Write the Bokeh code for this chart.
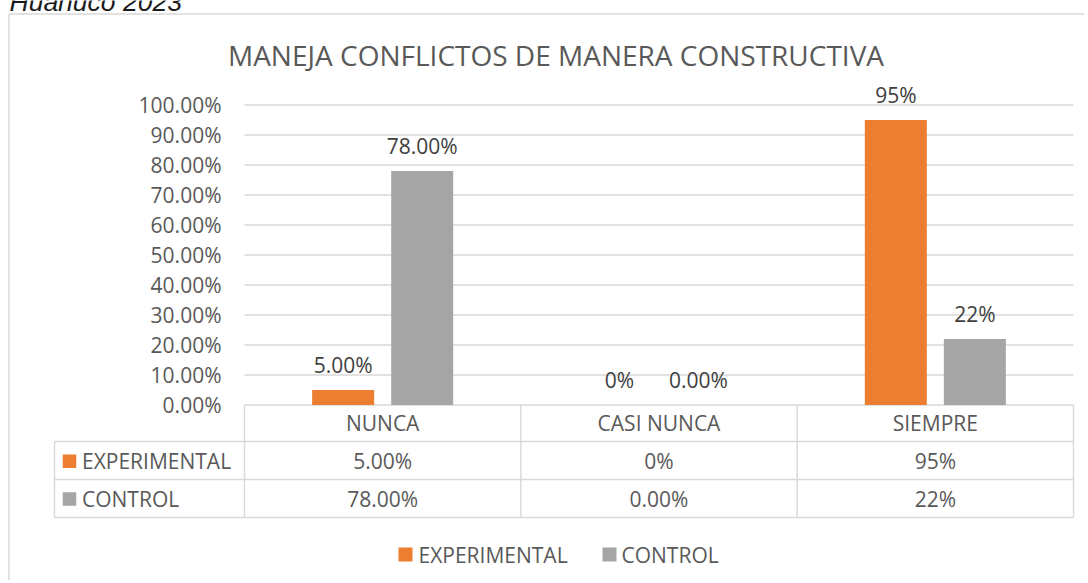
from bokeh.plotting import figure
from bokeh.models import Range1d
from bokeh.core.properties import value
from bokeh.embed import file_html
from bokeh.resources import INLINE
import numpy as np

# ---------------- data ----------------
caption = "Huánuco 2023"
chart_title = "MANEJA CONFLICTOS DE MANERA CONSTRUCTIVA"
categories = ["NUNCA", "CASI NUNCA", "SIEMPRE"]
series_names = ["EXPERIMENTAL", "CONTROL"]
experimental = [5.0, 0.0, 95.0]
control = [78.0, 0.0, 22.0]
experimental_labels = ["5.00%", "0%", "95%"]
control_labels = ["78.00%", "0.00%", "22%"]
y_ticks = [0, 10, 20, 30, 40, 50, 60, 70, 80, 90, 100]
y_tick_labels = ["0.00%", "10.00%", "20.00%", "30.00%", "40.00%", "50.00%",
                 "60.00%", "70.00%", "80.00%", "90.00%", "100.00%"]

# ---------------- style / layout ----------------
ORANGE = "#ED7D31"
GRAY = "#A5A5A5"
TXT = "#595959"
DLBL = "#404040"
LINE = "#D9D9D9"
FONT = value("Open Sans")
FS = "21px"

W, H = 1084, 580
OX, OY = 0, 0            # canvas origin on the screenshot
PL, PR = 244.0, 1073.0   # plot area left/right (screen px)
Y0 = 404.5               # 0% line (screen px)
PXY = 3.0                # px per percent
PXU = (PR - PL) / len(categories)


def sx(X):
    return (X - PL) / PXU


def sy(Y):
    return (Y0 - Y) / PXY


p = figure(width=W, height=H, output_backend="svg", toolbar_location=None,
           x_range=Range1d(sx(OX), sx(OX + W)), y_range=Range1d(sy(OY + H), sy(OY)),
           x_axis_location=None, y_axis_location=None, min_border=0)
p.outline_line_color = None
p.grid.grid_line_color = None
p.background_fill_color = "white"
p.border_fill_color = "white"

TXTKW = dict(text_font=FONT, text_font_size=FS, text_baseline="middle")

# document caption (cut off at the top, as in the source)
p.text(x=[sx(9)], y=[sy(1.5)], text=[caption], text_font=value("Liberation Sans"),
       text_font_size="26.5px", text_font_style="italic", text_color="#1a1a1a",
       text_align="left", text_baseline="middle")

# chart border (left and top)
p.segment(x0=[sx(8.5), sx(8.5)], y0=[sy(13.5), sy(13.5)],
          x1=[sx(8.5), sx(OX + W)], y1=[sy(OY + H), sy(13.5)],
          line_color=LINE, line_width=1.5)

# title
p.text(x=[sx(555.5)], y=[sy(54)], text=[chart_title], text_font=FONT,
       text_font_size="28px", text_color=TXT, text_align="center",
       text_baseline="middle")

# gridlines
n = len(categories)
p.segment(x0=[0] * len(y_ticks), x1=[n] * len(y_ticks), y0=y_ticks, y1=y_ticks,
          line_color=LINE, line_width=1.4)

# y tick labels
p.text(x=[sx(221)] * len(y_ticks), y=y_ticks, text=y_tick_labels, text_color=TXT,
       text_align="right", **TXTKW)

# bars
idx = np.arange(n) + 0.5
bw = 62 / PXU
off = 0.143
xe = idx - off
xc = idx + off
p.vbar(x=xe, top=experimental, bottom=0, width=bw, fill_color=ORANGE, line_color=None)
p.vbar(x=xc, top=control, bottom=0, width=bw, fill_color=GRAY, line_color=None)

# data labels
p.text(x=xe, y=experimental, text=experimental_labels, text_color=DLBL,
       text_align="center", y_offset=-25, **TXTKW)
p.text(x=xc, y=control, text=control_labels, text_color=DLBL,
       text_align="center", y_offset=-25, **TXTKW)

# data table lines
TL = sx(54)
rows_y = [441, 479, 517]
p.segment(x0=[TL] * 3, x1=[n] * 3, y0=[sy(r) for r in rows_y], y1=[sy(r) for r in rows_y],
          line_color=LINE, line_width=1.5)
p.segment(x0=[TL], x1=[TL], y0=[sy(441)], y1=[sy(517)], line_color=LINE, line_width=1.5)
p.segment(x0=list(range(n + 1)), x1=list(range(n + 1)), y0=[0] * (n + 1),
          y1=[sy(517)] * (n + 1), line_color=LINE, line_width=1.5)

# table text
p.text(x=idx, y=[sy(422.7)] * n, text=categories, text_color=TXT, text_align="center", **TXTKW)
p.text(x=idx, y=[sy(460)] * n, text=experimental_labels, text_color=TXT,
       text_align="center", **TXTKW)
p.text(x=idx, y=[sy(498)] * n, text=control_labels, text_color=TXT,
       text_align="center", **TXTKW)

# row legend keys
p.scatter(x=[sx(69), sx(69)], y=[sy(460.7), sy(498.5)], marker="square", size=13.5,
          fill_color=[ORANGE, GRAY], line_color=None)
p.text(x=[sx(81.5), sx(81.5)], y=[sy(460), sy(498)], text=series_names, text_color=TXT,
       text_align="left", **TXTKW)

# bottom legend
p.scatter(x=[sx(405), sx(609)], y=[sy(554), sy(554)], marker="square", size=14,
          fill_color=[ORANGE, GRAY], line_color=None)
p.text(x=[sx(418), sx(621)], y=[sy(554), sy(554)], text=series_names, text_color=TXT,
       text_align="left", **TXTKW)

open("out.html", "w").write(file_html(p, INLINE))
